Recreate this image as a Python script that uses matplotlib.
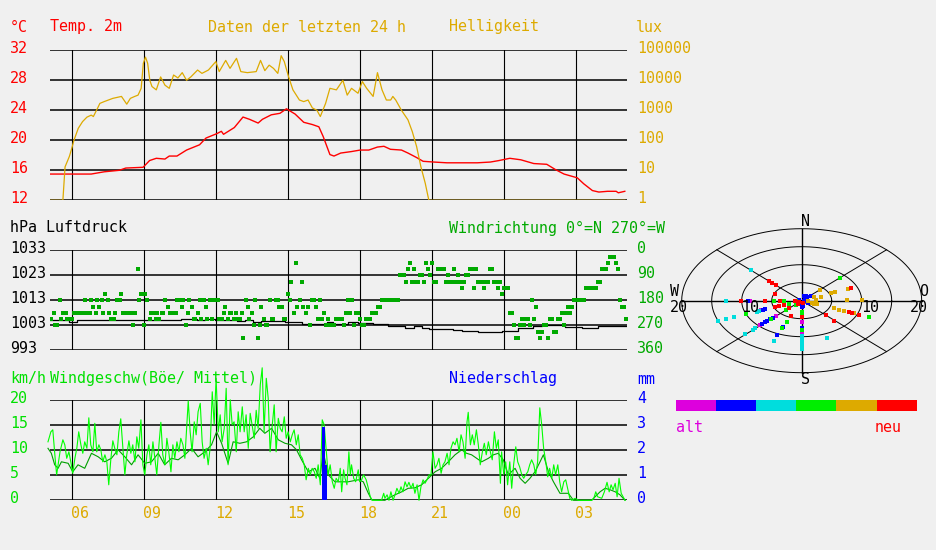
import matplotlib
matplotlib.use('Agg')
import matplotlib.pyplot as plt
import numpy as np

# ---------------- DATA ----------------
# time axis in hours of day (24+ = next day)
hour_ticks = [6, 9, 12, 15, 18, 21, 24, 27]
hour_labels = ['06', '09', '12', '15', '18', '21', '00', '03']

temp_ticks = [32, 28, 24, 20, 16, 12]
lux_ticks = [100000, 10000, 1000, 100, 10, 1]
lux_labels = ['100000', '10000', '1000', '100', '10', '1']
pres_ticks = [1033, 1023, 1013, 1003, 993]
dir_ticks = [0, 90, 180, 270, 360]
wind_ticks = [20, 15, 10, 5, 0]
rain_ticks = [4, 3, 2, 1, 0]

temp_h = [5.10, 6.80, 7.34, 7.97, 8.24, 8.96, 9.23, 9.51, 9.87, 10.05, 10.37, 10.77, 11.31, 11.58,
          12.04, 12.22, 12.31, 12.76, 13.12, 13.39, 13.75, 13.93, 14.30, 14.66, 14.93, 15.29, 15.65,
          16.01, 16.28, 16.46, 16.74, 16.91, 17.19, 17.64, 18.00, 18.36, 18.72, 18.99, 19.26, 19.72,
          19.99, 20.35, 20.62, 21.07, 21.61, 22.88, 23.42, 23.78, 24.23, 24.69, 25.23, 25.77, 26.13,
          26.49, 27.04, 27.31, 27.67, 27.94, 28.30, 28.66, 28.75, 29.02]
temp_c = [15.5, 15.5, 15.8, 16.0, 16.3, 16.4, 17.3, 17.6, 17.5, 17.9, 17.9, 18.7, 19.4, 20.3,
          20.9, 21.2, 20.8, 21.7, 23.1, 22.8, 22.3, 22.8, 23.4, 23.6, 24.2, 23.5, 22.4,
          22.1, 21.8, 20.5, 18.1, 17.9, 18.3, 18.5, 18.7, 18.7, 19.1, 19.2, 18.8, 18.7,
          18.3, 17.7, 17.2, 17.1, 17.0, 17.0, 17.1, 17.3, 17.6, 17.4, 16.9, 16.8, 16.1,
          15.5, 15.0, 14.2, 13.3, 13.1, 13.2, 13.2, 13.0, 13.2]

lux_h = [5.10, 5.62, 5.71, 5.89, 5.99, 6.08, 6.26, 6.44, 6.62, 6.80, 6.89, 7.07, 7.16, 7.34, 7.70,
         8.06, 8.28, 8.43, 8.61, 8.75, 8.88, 8.97, 9.06, 9.15, 9.24, 9.33, 9.51, 9.69, 9.87, 10.05,
         10.23, 10.41, 10.59, 10.77, 10.95, 11.23, 11.41, 11.68, 11.99, 12.13, 12.40, 12.58, 12.85,
         13.03, 13.30, 13.67, 13.85, 14.03, 14.21, 14.39, 14.57, 14.71, 14.84, 15.02, 15.20, 15.47,
         15.65, 15.83, 16.01, 16.20, 16.34, 16.56, 16.74, 17.01, 17.28, 17.46, 17.64, 17.91, 18.09,
         18.27, 18.54, 18.72, 18.91, 19.09, 19.27, 19.36, 19.48, 19.72, 19.99, 20.17, 20.35, 20.53,
         20.71, 20.86, 29.02]
lux_v = [1, 1, 13, 29, 54, 100, 250, 420, 590, 690, 620, 1200, 1700, 1950, 2500, 2900, 1600, 2500,
         2900, 3200, 5400, 37000, 59000, 37000, 10000, 6200, 4800, 13000, 6900, 5400, 15000, 12000,
         18000, 10000, 13000, 22000, 17000, 22000, 42000, 19500, 46000, 25000, 54000, 19500, 18000,
         19500, 46000, 21000, 32000, 25000, 17000, 66000, 42000, 13000, 4800, 2200, 1950, 2200, 1200,
         1000, 620, 1700, 5400, 4800, 10000, 3200, 5400, 3700, 9100, 5400, 2900, 18000, 4800, 2200,
         2200, 2900, 2200, 1000, 480, 195, 62, 13, 3.7, 1, 1]

pres_h = [5.10, 5.87, 6.20, 10.21, 10.53, 11.20, 11.53, 11.95, 12.89, 13.20, 13.55, 13.89, 14.87,
          15.56, 16.18, 16.60, 16.88, 17.51, 17.90, 18.55, 19.17, 19.87, 20.26, 20.56, 20.87, 21.88,
          22.23, 22.89, 23.89, 24.59, 25.20, 25.56, 26.53, 27.23, 27.92, 29.10]
pres_v = [1005.0, 1004.5, 1005.2, 1005.0, 1005.5, 1005.1, 1005.6, 1005.2, 1004.7, 1005.1, 1004.3,
          1004.7, 1004.2, 1003.7, 1003.4, 1004.5, 1003.7, 1004.2, 1003.8, 1003.4, 1002.8, 1001.8,
          1002.8, 1001.8, 1001.4, 1001.0, 1000.6, 1000.2, 1000.6, 1001.8, 1002.6, 1003.0, 1002.5,
          1001.8, 1002.9, 1002.9]

wdir_levels = [22.5, 45, 67.5, 90, 112.5, 135, 157.5, 180, 202.5, 225, 247.5, 270, 292.5, 315]
wdir_hours = [
    [28.39, 28.48, 28.56],
    [15.31, 20.06, 20.73, 20.98, 28.31, 28.64],
    [8.73, 19.98, 20.23, 20.81, 21.23, 21.31, 21.39, 21.48, 21.89, 22.56, 22.64, 22.81, 23.39, 23.48,
     28.06, 28.14, 28.23, 28.73],
    [19.64, 19.73, 19.81, 20.48, 20.56, 20.89, 21.64, 22.06, 22.39, 22.48],
    [15.14, 15.56, 19.89, 20.14, 20.31, 20.39, 20.64, 21.06, 21.14, 21.56, 21.73, 21.81, 21.98, 22.14,
     22.31, 22.89, 22.98, 23.06, 23.23, 23.31, 23.56, 23.64, 23.81, 27.89, 27.98],
    [22.23, 22.73, 23.14, 23.73, 23.98, 24.06, 24.14, 27.39, 27.48, 27.56, 27.64, 27.73, 27.81],
    [7.39, 8.06, 8.89, 9.06, 14.98, 23.89],
    [5.48, 6.56, 6.81, 7.06, 7.23, 7.48, 7.89, 7.98, 8.81, 9.14, 9.89, 10.39, 10.48, 10.64, 10.89,
     11.31, 11.48, 11.73, 11.89, 11.98, 12.06, 13.23, 13.64, 14.23, 14.48, 14.56, 15.06, 15.48, 15.98,
     16.06, 16.31, 17.48, 17.64, 18.89, 18.98, 19.06, 19.14, 19.23, 19.31, 19.39, 19.48, 19.56, 25.14,
     26.89, 26.98, 27.06, 27.14, 27.23, 27.31, 28.81],
    [6.89, 7.14, 9.98, 10.56, 10.98, 11.56, 12.39, 13.31, 13.89, 14.64, 14.73, 15.39, 15.64, 15.81,
     16.14, 18.73, 18.81, 25.31, 26.64, 26.81, 28.89, 28.98],
    [5.23, 5.64, 5.73, 6.09, 6.17, 6.25, 6.34, 6.42, 6.50, 6.64, 6.73, 6.98, 7.31, 7.56, 7.81, 8.14,
     8.23, 8.31, 8.39, 8.48, 8.64, 9.31, 9.39, 9.56, 9.73, 9.81, 10.06, 10.14, 10.23, 10.31, 10.81,
     11.23, 12.31, 12.56, 12.64, 12.81, 13.06, 13.48, 15.23, 15.73, 16.48, 17.39, 17.56, 17.81, 17.89,
     18.48, 18.56, 18.64, 24.25, 24.31, 26.39, 26.56, 26.73],
    [5.14, 5.56, 5.81, 5.89, 5.98, 7.64, 7.73, 9.23, 9.48, 9.64, 11.06, 11.14, 11.39, 11.64, 11.81,
     12.14, 12.23, 12.48, 12.73, 12.89, 12.98, 13.39, 13.98, 14.31, 14.39, 14.81, 14.89, 16.23, 16.39,
     16.64, 16.98, 17.06, 17.14, 17.23, 17.98, 18.23, 18.31, 18.39, 24.73, 24.89, 24.98, 25.23, 25.89,
     25.98, 26.23, 26.31, 29.06],
    [5.31, 5.39, 8.56, 8.98, 10.73, 13.56, 13.81, 14.06, 14.14, 15.89, 16.56, 16.73, 16.81, 16.89,
     17.31, 17.73, 18.06, 18.14, 24.39, 24.64, 24.81, 25.06, 25.64, 25.73, 26.48],
    [25.39, 25.56, 26.06, 26.14],
    [13.14, 13.73, 24.48, 24.56, 25.48, 25.81],
]

gust_h = [5.00, 5.12, 5.20, 5.25, 5.31, 5.36, 5.42, 5.50, 5.62, 5.70, 5.78, 5.87, 5.95, 6.03, 6.12,
          6.20, 6.28, 6.37, 6.45, 6.53, 6.62, 6.70, 6.78, 6.87, 6.95, 7.03, 7.12, 7.20, 7.28, 7.37,
          7.45, 7.53, 7.62, 7.70, 7.78, 7.87, 7.95, 8.03, 8.12, 8.20, 8.28, 8.37, 8.45, 8.53, 8.62,
          8.70, 8.78, 8.87, 8.95, 9.03, 9.12, 9.20, 9.28, 9.37, 9.45, 9.53, 9.62, 9.70, 9.78, 9.87,
          9.95, 10.03, 10.12, 10.20, 10.28, 10.37, 10.45, 10.53, 10.62, 10.70, 10.78, 10.84, 10.92,
          11.00, 11.09, 11.17, 11.25, 11.34, 11.42, 11.50, 11.59, 11.67, 11.75, 11.84, 11.92, 12.00,
          12.09, 12.17, 12.25, 12.34, 12.42, 12.50, 12.59, 12.67, 12.75, 12.84, 12.92, 13.00, 13.09,
          13.17, 13.25, 13.34, 13.42, 13.50, 13.59, 13.67, 13.75, 13.84, 13.92, 14.00, 14.09, 14.17,
          14.25, 14.34, 14.42, 14.50, 14.59, 14.67, 14.75, 14.84, 14.92, 15.00, 15.09, 15.17, 15.25,
          15.34, 15.42, 15.50, 15.59, 15.67, 15.75, 15.84, 15.92, 16.00, 16.09, 16.17, 16.25, 16.34,
          16.42, 16.50, 16.59, 16.67, 16.75, 16.84, 16.92, 17.00, 17.09, 17.17, 17.23, 17.31, 17.37,
          17.45, 17.53, 17.59, 17.64, 17.73, 17.81, 17.92, 17.98, 18.06, 18.14, 18.25, 18.34, 18.42,
          18.50, 18.89, 18.98, 19.03, 19.12, 19.20, 19.28, 19.37, 19.45, 19.53, 19.62, 19.70, 19.78,
          19.87, 19.95, 20.03, 20.12, 20.20, 20.28, 20.37, 20.45, 20.53, 20.62, 20.70, 20.78, 20.87,
          20.95, 21.03, 21.12, 21.20, 21.28, 21.37, 21.45, 21.53, 21.62, 21.70, 21.78, 21.87, 21.95,
          22.03, 22.12, 22.20, 22.28, 22.37, 22.45, 22.50, 22.59, 22.67, 22.75, 22.84, 22.92, 23.00,
          23.09, 23.17, 23.25, 23.34, 23.42, 23.50, 23.59, 23.67, 23.75, 23.84, 23.89, 23.98, 24.06,
          24.14, 24.23, 24.31, 24.39, 24.48, 24.56, 24.64, 24.73, 24.81, 24.89, 24.98, 25.06, 25.14,
          25.23, 25.31, 25.39, 25.48, 25.56, 25.64, 25.73, 25.81, 25.89, 25.98, 26.06, 26.14, 26.23,
          26.31, 26.39, 26.48, 26.56, 26.64, 26.73, 26.81, 26.95, 27.09, 27.64, 27.73, 27.81, 27.89,
          28.06, 28.17, 28.28, 28.37, 28.45, 28.53, 28.62, 28.70, 28.78, 28.87, 28.95, 29.03]
gust_v = [11.7, 13.7, 14.1, 11.1, 7.7, 5.1, 7.1, 9.7, 12.1, 11.1, 8.4, 9.7, 7.7, 5.4, 8.4,
          10.4, 13.7, 11.1, 9.4, 11.7, 10.4, 16.5, 11.1, 9.7, 15.4, 9.7, 11.1, 10.1, 7.7, 9.1,
          7.7, 3.1, 8.4, 11.9, 10.4, 9.1, 13.7, 16.3, 10.4, 5.1, 9.1, 11.9, 9.4, 11.1, 7.7,
          12.7, 10.4, 16.1, 7.1, 5.1, 9.1, 11.1, 7.1, 11.7, 8.4, 5.1, 11.1, 15.6, 9.1, 7.1,
          12.4, 9.7, 5.7, 11.1, 8.4, 11.7, 9.7, 12.4, 11.1, 8.4, 15.1, 19.9, 13.7,
          9.7, 15.7, 13.1, 17.7, 19.4, 11.7, 8.4, 10.4, 7.1, 10.4, 21.7, 15.1, 24.4,
          13.7, 17.1, 11.7, 14.4, 22.4, 7.1, 20.1, 15.1, 15.7, 9.7, 17.7, 13.7, 18.7,
          13.7, 17.1, 10.4, 17.4, 15.1, 12.4, 18.0, 14.4, 23.1, 26.5, 13.7, 24.4, 20.4,
          9.7, 15.1, 19.1, 9.7, 16.4, 14.4, 13.7, 16.7, 12.4, 13.7, 11.7, 13.1, 14.1,
          11.1, 13.1, 9.1, 8.4, 7.1, 4.1, 6.4, 5.1, 6.4, 5.7, 4.4, 7.1, 3.1,
          16.1, 15.1, 9.7, 5.1, 7.1, 3.7, 2.4, 4.4, 3.7, 6.4, 1.7, 6.1, 4.4,
          3.1, 9.7, 5.1, 7.1, 4.4, 3.7, 6.1, 3.7, 4.1, 5.1, 4.1, 2.4, 0.7,
          0.0, 0.0, 1.4, 0.4, 1.1, 0.0, 1.7, 0.0, 1.1, 2.4, 1.4, 2.7, 1.7,
          3.7, 2.7, 3.6, 2.4, 3.4, 1.4, 3.1, 0.0, 2.7, 4.1, 3.4, 4.1, 5.1,
          5.1, 9.7, 6.4, 7.1, 8.4, 5.4, 7.1, 7.7, 9.4, 7.1, 10.4, 11.7, 11.1,
          12.4, 9.7, 13.1, 11.7, 8.4, 15.7, 17.6, 11.1, 13.1, 11.1, 14.1, 11.1, 7.1,
          9.7, 11.4, 9.1, 11.7, 9.7, 8.1, 13.7, 10.4, 12.1, 3.4, 9.7, 5.1, 7.7,
          3.1, 7.7, 2.4, 7.1, 10.7, 7.7, 6.7, 5.1, 4.4, 5.1, 5.7, 7.1, 8.1,
          7.1, 5.1, 7.7, 18.5, 15.1, 10.4, 7.7, 4.7, 6.4, 4.4, 7.1, 5.1, 7.1,
          3.7, 1.7, 3.7, 4.1, 2.4, 0.4, 0.0, 0.4, 0.0, 0.0, 0.4, 1.7, 0.7,
          0.4, 1.7, 3.6, 1.7, 3.1, 2.1, 3.4, 0.7, 4.4, 1.4, 0.7, 0.0]

mean_h = [5.00, 5.14, 5.28, 5.42, 5.56, 5.84, 6.03, 6.25, 6.53, 6.81, 7.09, 7.36, 7.64, 7.92, 8.20,
          8.48, 8.75, 9.03, 9.31, 9.59, 9.86, 10.14, 10.42, 10.70, 10.98, 11.25, 11.53, 11.81, 12.02,
          12.23, 12.50, 12.71, 12.99, 13.27, 13.55, 13.82, 14.03, 14.31, 14.59, 14.87, 15.14, 15.35,
          15.56, 15.84, 16.12, 16.32, 16.46, 16.67, 16.95, 17.23, 17.50, 17.92, 18.13, 18.34, 18.48,
          19.03, 19.17, 19.45, 19.73, 20.00, 20.28, 20.56, 20.84, 21.12, 21.39, 21.67, 21.95, 22.23,
          22.43, 22.64, 22.85, 23.06, 23.34, 23.55, 23.75, 23.96, 24.17, 24.45, 24.66, 24.87, 25.07,
          25.28, 25.49, 25.63, 25.84, 26.05, 26.32, 26.67, 26.88, 27.64, 27.78, 27.99, 28.20, 28.41,
          28.62, 28.82, 29.03]
mean_v = [10.4, 9.4, 7.1, 6.4, 7.7, 7.4, 5.7, 7.1, 6.4, 9.4, 8.7, 7.7, 8.4, 10.1, 8.7,
          7.1, 9.1, 7.4, 7.7, 9.4, 7.1, 8.4, 8.1, 9.1, 10.4, 8.7, 9.7, 11.1, 13.7,
          11.4, 7.4, 11.7, 11.4, 11.7, 12.7, 14.4, 13.4, 14.4, 12.1, 11.4, 11.1, 10.1,
          8.1, 5.7, 6.4, 4.4, 9.7, 5.1, 3.7, 3.7, 3.7, 4.1, 3.7, 1.4, 0.1,
          0.0, 0.4, 1.1, 1.7, 2.4, 2.5, 3.1, 4.4, 5.7, 6.4, 7.7, 9.1, 10.1,
          9.4, 9.1, 8.4, 7.7, 8.4, 9.1, 9.4, 8.1, 5.1, 6.4, 4.4, 3.4, 4.4,
          5.7, 7.7, 9.1, 5.7, 3.7, 1.4, 1.4, 0.0, 0.0, 0.7, 1.7, 2.4, 2.1,
          1.7, 1.1, 0.0]

rain_h = [16.47, 16.58]
rain_mm = [2.94, 1.41]

# polar plot: wind vectors (east, north components, km/h) by age group
age_colors = ['#DD00DD', '#0000FF', '#00DDDD', '#00EE00', '#DDAA00', '#FF0000']
polar_u = [
    [-8.6, -4.3, -7.0, 0.0, 0.0, -6.8],
    [-9.0, -6.5, -6.1, -6.7, -6.2, -5.8, -5.3, -4.8, -4.1, -3.1, 0.0, 0.7, 1.5,
     -0.3, 0.0, 0.3, 0.6, 0.2, 1.0, 0.8, 0.3, -0.5, 0.0],
    [-8.4, -12.6, -14.0, -12.6, -11.3, -9.4, -8.1, -7.8, -7.5, -7.05, -4.6, 4.2,
     0.0, 0.0, 0.0, 0.0, 0.0, 0.0],
    [6.4, 11.2, -4.7, -2.9, -2.2, -2.6, -5.1, -9.3, -3.3, -2.5, 0.0, 0.0, 0.0, -0.9, -0.9],
    [3.0, 4.9, 5.6, 7.7, 2.0, 3.2, 2.3, 7.5, 10.0, 5.3, 6.2, 7.05, 8.7, 1.7, 2.1, 2.6, 1.1],
    [-5.5, -4.9, -4.3, -4.4, -10.1, -6.1, -3.6, -1.1, -3.0, -3.8, -4.4, -2.1, -1.8, 0.0,
     4.0, 5.4, 7.8, 8.3, 9.6, 8.2, -0.6, -0.4, 0.2],
]
polar_v = [
    [0.0, -4.3, -6.8, -5.9, -9.0, -2.6],
    [0.0, -2.6, -2.4, -6.5, -6.0, -5.6, -5.0, -4.8, -9.4, -7.4, -7.6, 1.4, 1.4,
     -0.5, -0.9, 0.0, 0.5, -1.4, -0.5, 0.9, 1.3, 0.2, -1.8],
    [8.4, 0.0, -5.7, -5.1, -4.5, -9.2, -8.0, -7.7, -3.1, -2.9, -11.1, -10.4,
     -9.7, -10.5, -11.3, -12.1, -12.9, -13.5],
    [6.3, -4.5, 0.0, 0.0, -1.0, -2.7, -5.1, -3.7, -7.5, -5.9, -3.1, -3.6, -8.1, 0.0, -1.1],
    [3.0, 2.1, 2.4, 3.3, 1.1, 1.1, 0.2, 0.2, 0.2, -2.0, -2.5, -2.9, -3.4, -0.7, -0.8, -0.8, 0.0],
    [5.5, 4.9, 4.3, 1.9, 0.0, 0.0, 0.0, 0.0, -1.3, -1.6, -1.8, -2.1, -4.3, -4.5,
     -4.1, -5.5, -3.2, -3.5, -4.0, 3.4, -0.9, -0.3, -0.5],
]
polar_rings = [5, 10, 15, 20]

# ---------------- STYLE ----------------
W, H = 936, 550
BG = '#F0F0F0'
FS = 10.8
plt.rcParams['font.family'] = ['DejaVu Sans Mono', 'DejaVu Sans']
RED, GOLD, BLUE = '#FF0000', '#DDAA00', '#0000FF'
DGREEN, LGREEN = '#00AA00', '#00E000'
PT = 0.72  # points per pixel at dpi 100

fig = plt.figure(figsize=(W / 100, H / 100), dpi=100, facecolor=BG)


def add_ax(x0, x1, ytop, ybot):
    ax = fig.add_axes([x0 / W, 1 - ybot / H, (x1 - x0) / W, (ybot - ytop) / H])
    ax.set_axis_off()
    return ax


def ftext(x, y, s, color, ha='left'):
    fig.text(x / W, 1 - y / H, s, color=color, ha=ha, va='center', fontsize=FS)


X0, X1 = 50.3, 626.6
XLIM = (5.096, 29.095)


def grid(ax, yticks):
    for v in yticks:
        ax.axhline(v, color='black', lw=1.1, zorder=1)
    for h in hour_ticks:
        ax.axvline(h, color='black', lw=0.8, zorder=1)


def left_labels(ax, vals, labels, color):
    for v, s in zip(vals, labels):
        ax.annotate(s, xy=(0, v), xycoords=('axes fraction', 'data'),
                    xytext=(-(X0 - 10) * PT, 2 * PT), textcoords='offset points',
                    ha='left', va='center', color=color, fontsize=FS)


def right_labels(ax, vals, labels, color):
    for v, s in zip(vals, labels):
        ax.annotate(s, xy=(1, v), xycoords=('axes fraction', 'data'),
                    xytext=((637 - X1) * PT, 2 * PT), textcoords='offset points',
                    ha='left', va='center', color=color, fontsize=FS)


# ---------- Panel 1: temperature / brightness ----------
ax1 = add_ax(X0, X1, 50.3, 200.3)
ax1.set_xlim(*XLIM)
ax1.set_ylim(12, 32)
grid(ax1, temp_ticks)
ax1b = ax1.twinx()
ax1b.set_axis_off()
ax1b.set_yscale('log')
ax1b.set_ylim(1, 100000)
ax1b.plot(lux_h, lux_v, color=GOLD, lw=0.9, zorder=3)
ax1.plot(temp_h, temp_c, color=RED, lw=1.0, zorder=4)
left_labels(ax1, temp_ticks, [str(t) for t in temp_ticks], RED)
right_labels(ax1b, lux_ticks, lux_labels, GOLD)

ftext(10, 27, '°C', RED)
ftext(50, 27, 'Temp. 2m', RED)
ftext(208, 27, 'Daten der letzten 24 h', GOLD)
ftext(449, 27, 'Helligkeit', GOLD)
ftext(636, 27, 'lux', GOLD)

# ---------- Panel 2: pressure / wind direction ----------
ax2 = add_ax(X0, X1, 250.3, 350.3)
ax2.set_xlim(*XLIM)
ax2.set_ylim(993, 1033)
grid(ax2, pres_ticks)
ax2.plot(pres_h, pres_v, color='black', lw=0.9, drawstyle='steps-post', zorder=3)
ax2b = ax2.twinx()
ax2b.set_axis_off()
ax2b.set_ylim(360, 0)
for lev, hrs in zip(wdir_levels, wdir_hours):
    ax2b.plot(hrs, [lev] * len(hrs), linestyle='none', marker='s', markersize=2.4,
              markeredgewidth=0, color=DGREEN, zorder=4)
left_labels(ax2, pres_ticks, [str(p) for p in pres_ticks], 'black')
right_labels(ax2b, dir_ticks, [str(d) for d in dir_ticks], DGREEN)
ftext(10, 228, 'hPa Luftdruck', 'black')
ftext(449, 228, 'Windrichtung 0°=N 270°=W', DGREEN)

# ---------- Panel 3: wind speed / precipitation ----------
ax3 = add_ax(X0, X1, 400.3, 500.3)
ax3.set_xlim(*XLIM)
ax3.set_ylim(0, 20)
grid(ax3, wind_ticks)
ax3.plot(mean_h, mean_v, color='#00A000', lw=0.8, zorder=3, clip_on=False)
ax3.plot(gust_h, gust_v, color='#00FF00', lw=0.8, zorder=3, clip_on=False)
ax3b = ax3.twinx()
ax3b.set_axis_off()
ax3b.set_ylim(0, 4)
ax3b.bar(rain_h, rain_mm, width=0.11, color=BLUE, zorder=4)
left_labels(ax3, wind_ticks, [str(w) for w in wind_ticks], LGREEN)
right_labels(ax3b, rain_ticks, [str(r) for r in rain_ticks], BLUE)
for h, s in zip(hour_ticks, hour_labels):
    ax3.annotate(s, xy=(h, 0), xycoords=('data', 'axes fraction'),
                 xytext=(8 * PT, -12.7 * PT), textcoords='offset points',
                 ha='center', va='center', color=GOLD, fontsize=FS)
ftext(10, 379, 'km/h', LGREEN)
ftext(50, 379, 'Windgeschw(Böe/ Mittel)', LGREEN)
ftext(449, 379, 'Niederschlag', BLUE)
ftext(637, 379, 'mm', BLUE)

# ---------- Polar wind plot ----------
axp = add_ax(681.7, 921.7, 228.7, 372.7)
axp.set_xlim(-20, 20)
axp.set_ylim(-20, 20)
t = np.linspace(0, 2 * np.pi, 361)
for r in polar_rings:
    axp.plot(r * np.cos(t), r * np.sin(t), color='black', lw=0.7, zorder=1, clip_on=False)
R = polar_rings[-1]
axp.plot([-R, R], [0, 0], color='black', lw=1.0, zorder=1, clip_on=False)
axp.plot([0, 0], [-R, R], color='black', lw=1.0, zorder=1, clip_on=False)
for ang in (45, 135):
    a = np.deg2rad(ang)
    axp.plot([-R * np.cos(a), R * np.cos(a)], [-R * np.sin(a), R * np.sin(a)],
             color='black', lw=0.7, zorder=1, clip_on=False)
for c, us, vs in zip(age_colors, polar_u, polar_v):
    axp.plot(us, vs, linestyle='none', marker='s', markersize=2.5, markeredgewidth=0,
             color=c, zorder=3, clip_on=False)

ftext(805, 221, 'N', 'black', ha='center')
ftext(805, 380, 'S', 'black', ha='center')
ftext(675, 292, 'W', 'black', ha='center')
ftext(924, 292, 'O', 'black', ha='center')
ftext(679, 307, '20', 'black', ha='center')
ftext(750, 307, '10', 'black', ha='center')
ftext(870, 307, '10', 'black', ha='center')
ftext(919, 307, '20', 'black', ha='center')

# age legend bar
axl = add_ax(676, 916.7, 400, 410.7)
axl.set_xlim(0, len(age_colors))
axl.set_ylim(0, 1)
axl.bar(range(len(age_colors)), [1] * len(age_colors), width=1.0, align='edge',
        color=age_colors, linewidth=0)
ftext(676, 428, 'alt', '#DD00DD')
ftext(875, 428, 'neu', RED)

fig.savefig('out.png', dpi=100, facecolor=BG)
